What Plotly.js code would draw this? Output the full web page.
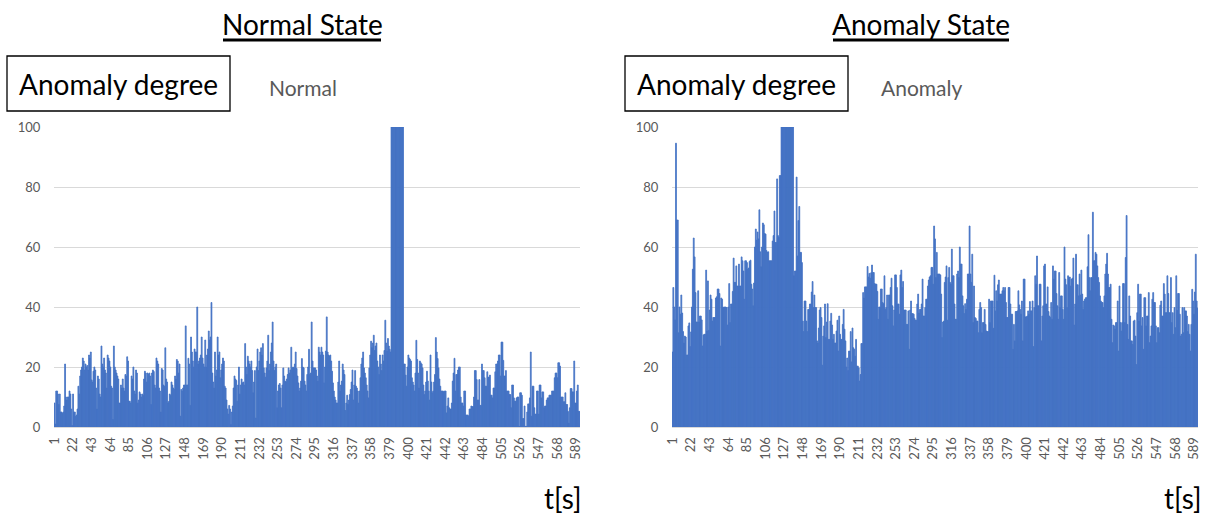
<!DOCTYPE html>
<html>
<head>
<meta charset="utf-8">
<script src="https://cdn.plot.ly/plotly-3.0.1.min.js"></script>
<style>html,body{margin:0;padding:0;background:#fff;}#chart{width:1210px;height:518px;}</style>
</head>
<body>
<div id="chart"></div>
<script>
// Anomaly degree per second, Normal State
const normalDegree = [
8,1,12,12,11,7.5,11,5,5,4.5,
5,7,21,10,9,10,10,12,11,6,
0.5,11,5,5,3.5,4,6,13.6,11,17,
19,20,23,22,19,21,20,20.5,19,24,
23,25,15.7,15,18.6,20,19,13,6,17,
16,11,10,27,21,20,23,19,18,13,
24,23,22,20,13.6,13,2.5,27,20,19,
18,17,16,8,8,14,13,16,13,12,
17.5,17,23.4,22,8.6,8.6,8,17,16,20,
12,11,19,18,8,9,11.7,11,10,11,
10.5,16,18.6,18,15,18,17.5,18,17,7.5,
18,19,18.5,14,13,23,22,21,13,12,
5,19.5,19,14,13.5,26.4,16,15,8,8.5,
11,10.5,15,14,13,12.5,17,16,22.5,22,
18,21,
3.6,12.5,12,13,14,14,33.7,14,14,22.9,
21,7.2,30,25,22,20,26,25,25,40,
21,22,23,24,30,23,21,20,29,20,
24,26,32,29,30,41.5,18,15,13,25,
17,19,30,24,25,16.4,19,21,23,22,
13.6,13,9,6,4.3,7.2,6,0.8,5,7,
13,17,16,15.5,8.6,14,20,11,14,16,
14.7,15,14,27.8,20,17.5,23.6,22,21,20,
22,18.8,11.4,15,18.8,3,20,26,18.8,22,
25,26.4,24,27.8,19.7,18,16.6,19.7,22,30.6,
18.8,21,25,28,35,22,18.8,20,21,6.4,
12,14,14.5,13,6.4,14,19.7,17,15.3,15,
16,17.5,19.7,18,19,26.6,19.7,20,19.7,21,
25,19.5,17,14.7,12,13,15.3,22.8,20,19.7,
15.3,14,12,17.5,20,25.9,17.5,18,35,22,
19.7,19.7,
19.7,19,17,15.3,26.6,25,24,26.6,25,24,
14.7,20,25.3,36.7,25,24,23.6,24,22,18.6,
14.7,12,10,9,8,8,15,22,12,14,
15.3,21,19,17.5,5.5,8,10.6,7.5,9,10.8,
12.5,15,19,9,14,18.8,13.6,13,12,8,
12,16.4,21,23,25,19.7,18,16.4,14,12,
9.7,19.7,24,28.6,26.4,28,30.6,25.5,27,28,
22,20,17.5,24,21,18.8,24,22,25.5,35.6,
28,25.3,29.5,27,25.9,25,
100,100,100,100,100,100,100,100,100,100,100,100,100,100,
21,21,17.3,13.6,20,24,23,22.5,22,16.4,
15,14,12,18,28.9,22.5,18,13,22,21.4,
21,19.7,14,10.8,12,15,18.6,15.3,12,9,
24,15,11.4,12,15,17.5,29.8,25,22.8,19.7,
16,13.6,12,12,12,11.7,12,12,4.7,7,
9.7,
6.4,6,6,8,15.3,18,22.9,12,17.5,17.5,
19,20,20,10,8,8,7,12,12,4,
4,4,3.6,6,6,7,6.8,6.8,10,18.8,
18.8,15.8,9,9,15.8,7.2,7.2,21,18.8,18.8,
16.4,13.6,13.6,18.4,16.6,16.6,17.3,10.6,10.6,9.7,
13,13,18.4,21,21,22,24,24,17,28.3,
28.3,22.2,17,17,18.8,12,12,12,10.8,10.8,
6.4,14,14,9.7,8.6,8.6,9.7,10,10,0.2,
11.4,11.4,10.6,2.8,2.8,7,0.2,0.2,5,7.7,
7.7,9.7,25,3.6,13.6,13.6,6.4,4.3,4.3,12,
12,4.3,14,14,9.7,11.7,11.7,6.4,7,7,
9,9.7,9.7,10.6,10.6,10.6,12,12,12,16.4,
18,18,16.4,21.4,21.4,20.3,10,10,10,8.4,
8.4,11.4,7.5,7.5,5.2,1.3,6.4,12.8,12.8,11.7,
11.7,22,8,8,12,14,5.2,5.2
];

// Anomaly degree per second, Anomaly State
const anomalyDegree = [
25,46.5,40,35.7,94.6,69,69,31.4,40,37.6,
44,38,31.8,28,30.3,30,24,24,33.7,34.7,
26.8,31.7,40,52.6,63,56.7,44.8,35,35,45.4,
35,37,37,35.7,27,30.7,30.9,30.9,52.3,32,
48.7,32.2,39,44,42.6,35.3,36.5,36.5,36.5,43,
43.4,46,46,44.5,27,43,42.6,39.8,40,40,
40,39.8,34,40,47.8,34.8,41,41,45.2,56.3,
48.2,48.2,53.7,47,47,54.3,47,47,56.7,55.4,
52,42.6,55.4,55.4,54.8,52.6,53,55.2,55.6,47.6,
46,40.4,48,60,66,62.3,65,62.7,72.4,58.4,
53.4,60,68,67.4,64.5,64.3,58.8,58.2,58.4,55.4,
55.4,55.4,55.4,62,63.8,72,61.5,61.5,82.7,63.8,
63.2,83.8,83.8,100,100,100,100,100,100,100,
100,100,100,100,100,100,100,50.4,52,52,
83.3,57,68.8,73.5,
58.2,58.2,54.8,35.3,31.8,42,42,35.3,31.8,39.2,
39.2,41,41,45,48.5,39.8,44,39.8,39.8,28.7,
28,33,39,39.8,36.5,20.6,30.3,33.7,41,29.8,
35,41.1,29.2,29.2,35.3,37.9,34,29.2,30.9,28,
28,32,35.6,25.3,37,30.9,29.2,29.2,34.2,39.2,
32.6,28.7,20,23,18.8,25.3,25.3,31.8,21.7,33,
26.4,25.9,23.6,29.2,20.3,20.3,19.7,15.3,17.5,27.8,
27.8,44.8,43,46.7,46.7,46.7,53.5,50,51.2,49.6,
51.4,54,51.5,51.5,47.8,47.6,47.6,45.2,35.9,40,
40,46,46,41.5,41.1,50.4,39.2,39.8,44,35.9,
44,44,46.5,49.6,40.4,33.7,39,50.7,50.7,46.5,
41,41,37.6,50.7,52.3,46.5,48.5,39,39,39,
34.2,34.2,38.7,25.9,39,42,37.8,37.8,37.6,36.2,
35.6,35.6,41,44.3,38,39.2,39.2,41,49.3,37,
37,39.8,42.6,42.6,47,49,50,50.4,53.2,53.2,
47.6,67,
62.7,49.8,58.2,51,51,51,50.7,44.3,29.8,35,
35.3,48.2,50,53.7,35.6,49.8,53.2,48.2,47.6,59.3,
50.4,50.4,41,35.9,35.9,51,52,49.8,60,54.3,
54.3,43.7,40.4,37.8,41.1,39.2,42.6,51,51,67,
51,48.2,57.6,34.8,47,36.5,36.2,35.3,35.3,31.4,
39.2,41.5,39.8,31.4,34.8,34.8,39.2,34.2,32,31.8,
31.8,42.6,34.8,42,42,42,32.9,50.6,38.7,45.4,
42,47.4,49,44.3,44.3,44.3,45.4,46.5,45.4,46.5,
41.5,36.5,36.5,46.5,46.5,41,37.6,37.6,25.9,34.2,
28.7,38.5,38.5,38.7,45.4,40.7,39.2,37.6,42,28.7,
49.3,49.3,36.7,36.7,37,38.7,37.6,41.8,38.7,38.7,
42,26.8,39.8,50.4,47.6,57,40.4,40.4,47.6,47.6,
28.7,37,40.4,53.7,54.3,41,41,46.7,38.5,37,
36.5,41.5,35.9,53.7,49.3,52,52,44.5,40.4,35.9,
51.5,39.8,43.7,43.7,39.2,35.9,60,49.3,47.4,39.8,
50.4,49.8,
50,47,49.3,49.6,56.3,34,41,57.6,47.4,47.4,
43.7,51,44,52.3,44.3,39.2,42,42.6,43.1,43.1,
53.4,64.1,49.8,45.4,49.8,49.8,71.6,55.4,55.4,58.2,
57.6,53.7,49.8,48.2,43.7,42,41.5,41.5,39.8,43.7,
51,54.3,57.9,51,46.5,46.5,47.6,35.9,28.1,34,
33.7,32.6,34.8,34.8,42,25.3,47,34.8,32,34.8,
47.8,47.8,34.8,56.5,70.5,34.2,29.2,43.7,37,28.7,
28.7,27.5,35.3,35.6,30.3,20.8,38.1,47.6,35.3,44.3,
44.3,33.7,36.5,25.9,43.1,43.1,33.7,37,37,44.8,
28.1,30.3,33.7,42.6,44.8,41.5,41.5,33.7,28.1,33.1,
33.1,31.4,40.6,42,37,37,47.8,44.3,38.1,38.1,
50.4,44.5,38.1,38.1,49.8,34.8,38.1,30.9,39.8,33.1,
50.4,38.9,44.5,44.5,37.6,30.3,30.9,39.8,31.4,39.8,
38.7,38.7,37,31.8,34.2,30.9,25.3,34.2,45.9,42,
37.6,45,57.6,42,39.6
];

// time axis (seconds) and tick labels
const seconds = normalDegree.map((_, i) => i + 1);
const secondsB = anomalyDegree.map((_, i) => i + 1);
const tickSeconds = [1,22,43,64,85,106,127,148,169,190,211,232,253,274,295,316,337,358,379,400,421,442,463,484,505,526,547,568,589];
const yTicks = [0,20,40,60,80,100];

const panelTitles = ['Normal State', 'Anomaly State'];
const seriesNames = ['Normal', 'Anomaly'];
const boxLabel = 'Anomaly degree';
const xUnit = 't[s]';

const W = 1210, H = 518;
const px = x => x / W;
const py = y => 1 - y / H;
const FONT = 'Lato, "Liberation Sans", sans-serif';
const BAR = '#4472C4';
const GRID = '#d9d9d9';
const GRAY = '#595959';

function xaxisDef(x0, x1) {
  return {
    domain: [px(x0), px(x1)],
    range: [0.5, normalDegree.length + 0.5],
    tickmode: 'array',
    tickvals: tickSeconds,
    ticktext: tickSeconds.map(String),
    tickangle: -90,
    tickfont: {family: FONT, size: 13, color: GRAY},
    showgrid: false,
    zeroline: false,
    showline: true,
    linecolor: GRID,
    linewidth: 1,
    ticks: 'outside',
    ticklen: 4,
    tickcolor: 'rgba(0,0,0,0)',
    fixedrange: true
  };
}
function yaxisDef() {
  return {
    domain: [py(427), py(127)],
    range: [0, 100],
    tickmode: 'array',
    tickvals: yTicks,
    ticktext: yTicks.map(String),
    tickfont: {family: FONT, size: 13, color: GRAY},
    showgrid: true,
    gridcolor: GRID,
    gridwidth: 1,
    zeroline: false,
    showline: false,
    ticks: 'outside',
    ticklen: 10,
    tickcolor: 'rgba(0,0,0,0)',
    fixedrange: true
  };
}

const barStyle = {color: BAR, line: {width: 0.8, color: BAR}};
const traces = [
  {type: 'bar', x: seconds, y: normalDegree, name: seriesNames[0], marker: barStyle, xaxis: 'x', yaxis: 'y', hoverinfo: 'x+y'},
  {type: 'bar', x: secondsB, y: anomalyDegree, name: seriesNames[1], marker: barStyle, xaxis: 'x2', yaxis: 'y2', hoverinfo: 'x+y'}
];

const panels = [{left: 54, right: 580, titleX: 302, boxL: 7, boxR: 230, nameX: 303, unitX: 563},
                {left: 672, right: 1198, titleX: 921, boxL: 625, boxR: 848, nameX: 921, unitX: 1183}];

const annotations = [];
const shapes = [];
panels.forEach((p, k) => {
  annotations.push({xref: 'paper', yref: 'paper', x: px(p.titleX), y: py(24), xanchor: 'center', yanchor: 'middle',
    text: panelTitles[k], showarrow: false, font: {family: FONT, size: 28, color: '#000'}});
  annotations.push({xref: 'paper', yref: 'paper', x: px((p.boxL + p.boxR) / 2), y: py(84), xanchor: 'center', yanchor: 'middle',
    text: boxLabel, showarrow: false, font: {family: FONT, size: 28, color: '#000'}});
  annotations.push({xref: 'paper', yref: 'paper', x: px(p.nameX), y: py(87), xanchor: 'center', yanchor: 'middle',
    text: seriesNames[k], showarrow: false, font: {family: FONT, size: 21, color: GRAY}});
  annotations.push({xref: 'paper', yref: 'paper', x: px(p.unitX), y: py(498), xanchor: 'center', yanchor: 'middle',
    text: xUnit, showarrow: false, font: {family: FONT, size: 28, color: '#000'}});
  shapes.push({type: 'rect', xref: 'paper', yref: 'paper', x0: px(p.boxL), x1: px(p.boxR), y0: py(56), y1: py(111),
    line: {color: '#000', width: 1.3}, fillcolor: 'rgba(0,0,0,0)'});
});
// underline of the panel titles
shapes.push({type: 'line', xref: 'paper', yref: 'paper', x0: px(223), x1: px(381), y0: py(40), y1: py(40), line: {color: '#000', width: 3}});
shapes.push({type: 'line', xref: 'paper', yref: 'paper', x0: px(833), x1: px(1009), y0: py(40), y1: py(40), line: {color: '#000', width: 3}});

const layout = {
  width: W, height: H,
  margin: {l: 0, r: 0, t: 0, b: 0},
  paper_bgcolor: '#fff', plot_bgcolor: '#fff',
  showlegend: false,
  bargap: 0.001,
  xaxis: xaxisDef(54, 580),
  yaxis: yaxisDef(),
  xaxis2: Object.assign(xaxisDef(672, 1198), {anchor: 'y2'}),
  yaxis2: Object.assign(yaxisDef(), {anchor: 'x2'}),
  annotations: annotations,
  shapes: shapes,
  font: {family: FONT}
};
layout.xaxis.anchor = 'y';
layout.yaxis.anchor = 'x';

Plotly.newPlot('chart', traces, layout, {displayModeBar: false, staticPlot: true});
</script>
</body>
</html>
